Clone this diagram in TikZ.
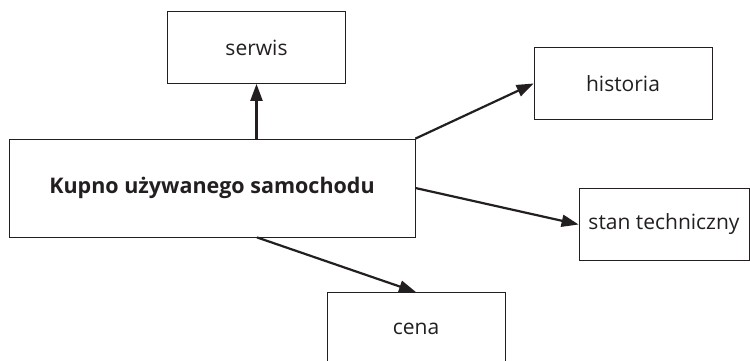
\documentclass[tikz,border=0pt]{standalone}
\usepackage{fontspec}
\setmainfont{Open Sans}
\usetikzlibrary{arrows.meta}
\definecolor{ink}{HTML}{231F20}

\begin{document}
\begin{tikzpicture}[x=1pt, y=-1pt, color=ink,
	box/.style = {draw, line width=0.8pt, minimum width=178pt, minimum height=72pt, font=\fontsize{21}{25}\selectfont},
	arr/.style = {line width=2.2pt, -{Triangle[length=17pt,width=12pt]}}]
	\useasboundingbox (0,0) rectangle (750,360);
	\node[box, minimum width=406pt, minimum height=98pt, font=\bfseries\fontsize{21.5}{25}\selectfont] (main) at (212,188) {Kupno używanego samochodu};
	\node[box] (serwis) at (256.5,47.5) {serwis};
	\node[box] (historia) at (623,83.5) {historia};
	\node[box, minimum width=170pt] (stan) at (664,224.5) {stan techniczny};
	\node[box] (cena) at (416,328.5) {cena};
	\draw[arr] (serwis.south |- main.north) -- (serwis.south);
	\draw[arr] (main.north east) -- (historia.west);
	\draw[arr] (main.east) -- (stan.west);
	\draw[arr] ([xshift=45pt]main.south) -- (cena.north);
\end{tikzpicture}
\end{document}
